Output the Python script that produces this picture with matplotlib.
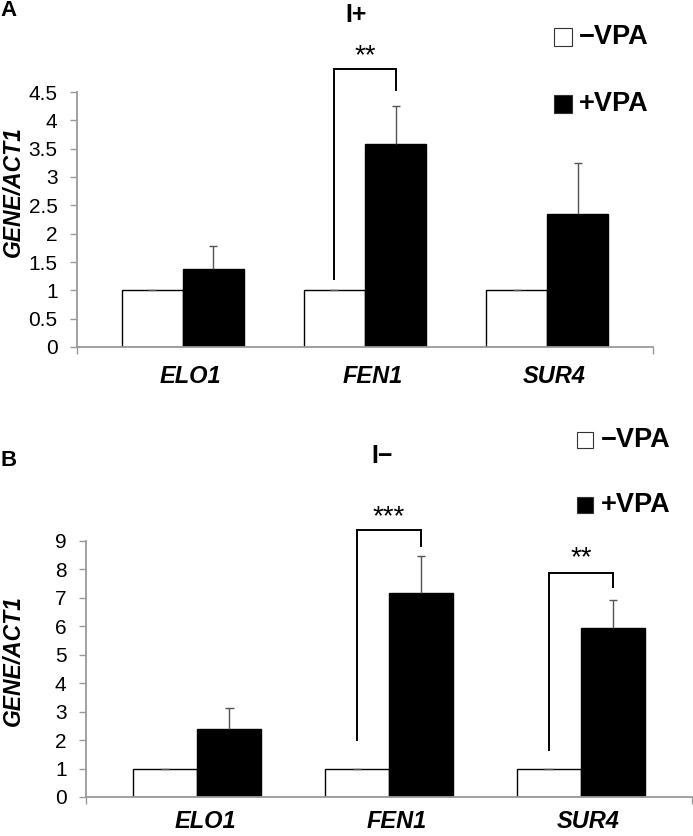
import matplotlib.pyplot as plt
import numpy as np
from matplotlib.patches import Rectangle

plt.rcParams['font.family'] = ['Liberation Sans', 'DejaVu Sans']

# data
genes = ['ELO1', 'FEN1', 'SUR4']

a_minus = [1.0, 1.0, 1.0]
a_minus_err = [0.0, 0.0, 0.0]
a_plus = [1.38, 3.58, 2.35]
a_plus_err = [0.40, 0.68, 0.90]
a_yticks = [0, 0.5, 1, 1.5, 2, 2.5, 3, 3.5, 4, 4.5]
a_yticklabels = ['0', '0.5', '1', '1.5', '2', '2.5', '3', '3.5', '4', '4.5']

b_minus = [1.0, 1.0, 1.0]
b_minus_err = [0.0, 0.0, 0.0]
b_plus = [2.40, 7.15, 5.95]
b_plus_err = [0.73, 1.31, 0.97]
b_yticks = [0, 1, 2, 3, 4, 5, 6, 7, 8, 9]

# significance brackets: (gene index, left bottom, top, right bottom, stars, star y)
a_sig = [(1, 1.20, 4.91, 4.54, '**', 5.13)]
b_sig = [(1, 2.00, 9.36, 8.82, '***', 9.84), (2, 1.65, 7.86, 7.39, '**', 8.40)]

W, H = 693, 836
fig = plt.figure(figsize=(W / 100, H / 100), dpi=100)


def fx(px):
    return px / W


def fy(py):
    return 1 - py / H


axis_col = '#9a9a9a'
bw = 0.335
cap = 0.022


def upper_err(ax, x, y, err):
    # only the upper half of the error bar shows above the bar
    ax.vlines(x, y, y + np.array(err), color='#555555', lw=1.0, zorder=3)
    ax.hlines(y + np.array(err), x - cap, x + cap, color='#555555', lw=1.0, zorder=3)


def draw_panel(ax, minus, minus_err, plus, plus_err, yticks, yticklabels, ymax,
               sig, xpad):
    x = np.arange(len(genes))
    ax.bar(x - bw / 2, minus, bw, color='white', edgecolor='black', linewidth=1.0,
           zorder=2)
    ax.bar(x + bw / 2, plus, bw, color='black', edgecolor='black', linewidth=1.0,
           zorder=2)
    upper_err(ax, x - bw / 2, np.array(minus), minus_err)
    upper_err(ax, x + bw / 2, np.array(plus), plus_err)
    ax.set_xlim(-0.58, 2.58)
    ax.set_ylim(0, ymax)
    for s in ['top', 'right']:
        ax.spines[s].set_visible(False)
    for s in ['left', 'bottom']:
        ax.spines[s].set_color(axis_col)
        ax.spines[s].set_linewidth(1.3)
    ax.set_yticks(yticks)
    ax.set_yticklabels(yticklabels)
    ax.tick_params(axis='y', direction='out', length=5, width=1, color=axis_col,
                   labelsize=15, pad=9)
    ax.set_xticks(x + 0.04)
    ax.set_xticklabels(genes, fontsize=17, fontweight='bold', fontstyle='italic')
    ax.tick_params(axis='x', length=0, pad=xpad)
    ax.set_xticks([-0.58, 2.58], minor=True)
    ax.tick_params(axis='x', which='minor', direction='out', length=5, width=1,
                   color=axis_col)
    for gi, lb, top, rb, stars, sy in sig:
        xl = gi - bw / 2
        xr = gi + bw / 2
        ax.plot([xl, xl, xr, xr], [lb, top, top, rb], color='black', lw=1.4,
                clip_on=False, solid_joinstyle='miter')
        ax.text(gi, sy, stars, ha='center', va='center', fontsize=20,
                clip_on=False)


axA = fig.add_axes([fx(77), fy(347), fx(653) - fx(77), fy(92) - fy(347)])
draw_panel(axA, a_minus, a_minus_err, a_plus, a_plus_err, a_yticks,
           a_yticklabels, 4.5, a_sig, 13)

axB = fig.add_axes([fx(86), fy(797), fx(692) - fx(86), fy(540.7) - fy(797)])
draw_panel(axB, b_minus, b_minus_err, b_plus, b_plus_err, b_yticks,
           [str(v) for v in b_yticks], 9, b_sig, 9)

# panel letters, titles, y labels
fig.text(fx(0), fy(10), 'A', fontsize=16, fontweight='bold', ha='left', va='center')
fig.text(fx(0), fy(461), 'B', fontsize=16, fontweight='bold', ha='left', va='center')
fig.text(fx(356), fy(15), 'I+', fontsize=18, fontweight='bold', ha='center', va='center')
fig.text(fx(382), fy(456), 'I\u2212', fontsize=18, fontweight='bold', ha='center', va='center')
fig.text(fx(13), fy(192), 'GENE/ACT1', rotation=90, fontsize=16.5, fontweight='bold',
         fontstyle='italic', ha='center', va='center')
fig.text(fx(13), fy(661), 'GENE/ACT1', rotation=90, fontsize=16.5, fontweight='bold',
         fontstyle='italic', ha='center', va='center')


# legends
def legend(x0, y_top, y_bot, size, tx):
    for yc, fc, lab in [(y_top, 'white', '\u2212VPA'), (y_bot, 'black', '+VPA')]:
        fig.patches.append(Rectangle((fx(x0), fy(yc + size / 2)), size / W, size / H,
                                     facecolor=fc, edgecolor='#333333', linewidth=0.8,
                                     transform=fig.transFigure))
        fig.text(fx(tx), fy(yc), lab, fontsize=19.5, fontweight='bold',
                 ha='left', va='center')


legend(554, 37, 104, 18, 579)
legend(577, 440, 505, 16, 601)

fig.savefig('out.png', dpi=100)
